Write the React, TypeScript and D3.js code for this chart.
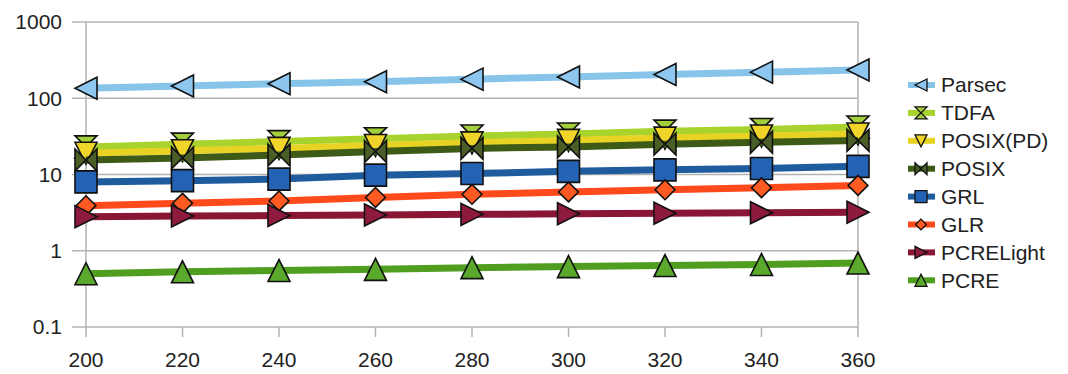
import React from 'react';
import * as d3 from 'd3';

// x values (pattern length)
const xValues = [200, 220, 240, 260, 280, 300, 320, 340, 360];
const yTicks = [0.1, 1, 10, 100, 1000];

const seriesNames = ['Parsec', 'TDFA', 'POSIX(PD)', 'POSIX', 'GRL', 'GLR', 'PCRELight', 'PCRE'];

const parsec = [135, 145, 155, 165, 178, 190, 205, 220, 235];
const tdfa = [23, 25, 27, 29.5, 32, 34, 37, 39, 42];
const posixPD = [19, 20.5, 22, 24, 26, 28, 30, 32, 34];
const posix = [15.5, 16.5, 18, 20, 22, 23, 25, 26.5, 28];
const grl = [8, 8.3, 8.7, 9.8, 10.3, 11, 11.5, 12, 12.8];
const glr = [3.9, 4.2, 4.5, 5, 5.5, 5.9, 6.3, 6.7, 7.2];
const pcreLight = [2.8, 2.85, 2.9, 2.95, 3.0, 3.05, 3.1, 3.15, 3.2];
const pcre = [0.5, 0.53, 0.55, 0.57, 0.6, 0.62, 0.64, 0.66, 0.69];

const seriesValues = [parsec, tdfa, posixPD, posix, grl, glr, pcreLight, pcre];

const lineColors = ['#87c4ea', '#a8d22c', '#e8d324', '#3d5a16', '#1f5c9e', '#ff4b1c', '#8a1636', '#4f9e1f'];
const markerColors = ['#8dc6ee', '#a4cf3c', '#f0d42a', '#4b5e28', '#2463b4', '#ff5a22', '#8e1a3e', '#5aa82c'];
const markerShapes = ['left', 'hourglass', 'down', 'bowtie', 'square', 'diamond', 'right', 'up'];

// marker outline paths, h = half size
const markerPath = (shape: string, h: number) => {
  switch (shape) {
    case 'left': return `M${h},${-h}L${-h},0L${h},${h}Z`;
    case 'right': return `M${-h},${-h}L${h},0L${-h},${h}Z`;
    case 'down': return `M${-h},${-h}L${h},${-h}L0,${h}Z`;
    case 'up': return `M${-h},${h}L${h},${h}L0,${-h}Z`;
    case 'square': return `M${-h},${-h}L${h},${-h}L${h},${h}L${-h},${h}Z`;
    case 'diamond': return `M0,${-h * 0.9}L${h * 0.9},0L0,${h * 0.9}L${-h * 0.9},0Z`;
    case 'hourglass': return `M${-h},${-h}L${h},${-h}L${-h},${h}L${h},${h}Z`;
    case 'bowtie': return `M${-h},${-h}L${h},${h}L${h},${-h}L${-h},${h}Z`;
    default: return '';
  }
};

const width = 1068;
const height = 374;
const margin = { top: 22, left: 86, right: 858, bottom: 327 };

const App = () => {
  const x = d3.scaleLinear().domain([200, 360]).range([margin.left, margin.right]);
  const y = d3.scaleLog().domain([0.1, 1000]).range([margin.bottom, margin.top]);

  const line = d3.line<number>()
    .x((_, i) => x(xValues[i]))
    .y(d => y(d));

  const font = '"Liberation Sans", Arial, sans-serif';
  const fs = 21;

  return (
    <svg width={width} height={height} style={{ position: 'absolute', left: 0, top: 0, background: '#fff' }}>
      {/* gridlines + y ticks */}
      {yTicks.map(t => (
        <g key={t}>
          <line x1={margin.left - 14} x2={margin.right} y1={y(t)} y2={y(t)} stroke="#b3b3b3" strokeWidth={1.5} />
          <text x={62} y={y(t)} dy="0.35em" textAnchor="end" fontFamily={font} fontSize={fs} fill="#222">{t}</text>
        </g>
      ))}
      <line x1={margin.left} x2={margin.left} y1={margin.top} y2={margin.bottom} stroke="#b3b3b3" strokeWidth={1.5} />
      <line x1={margin.right} x2={margin.right} y1={margin.top} y2={margin.bottom} stroke="#b3b3b3" strokeWidth={1.5} />
      {/* x ticks */}
      {xValues.map(v => (
        <g key={v}>
          <line x1={x(v)} x2={x(v)} y1={margin.bottom} y2={margin.bottom + 10} stroke="#b3b3b3" strokeWidth={1.5} />
          <text x={x(v)} y={367} textAnchor="middle" fontFamily={font} fontSize={fs} fill="#222">{v}</text>
        </g>
      ))}
      {/* series */}
      {seriesValues.map((vals, si) => (
        <g key={seriesNames[si]}>
          <path d={line(vals) || ''} fill="none" stroke={lineColors[si]} strokeWidth={7} />
          {vals.map((v, i) => (
            <path key={i} d={markerPath(markerShapes[si], 11)}
              transform={`translate(${x(xValues[i])},${y(v)})`}
              fill={markerColors[si]} stroke="#111" strokeWidth={1.6} strokeLinejoin="miter" />
          ))}
        </g>
      ))}
      {/* legend */}
      {seriesNames.map((name, si) => {
        const ly = 85 + si * 27.9;
        return (
          <g key={name}>
            <line x1={908} x2={935} y1={ly} y2={ly} stroke={lineColors[si]} strokeWidth={6} />
            <path d={markerPath(markerShapes[si], 6)} transform={`translate(921,${ly})`}
              fill={markerColors[si]} stroke="#111" strokeWidth={1.3} />
            <text x={941} y={ly} dy="0.35em" fontFamily={font} fontSize={fs} fill="#222">{name}</text>
          </g>
        );
      })}
    </svg>
  );
};

export default App;
